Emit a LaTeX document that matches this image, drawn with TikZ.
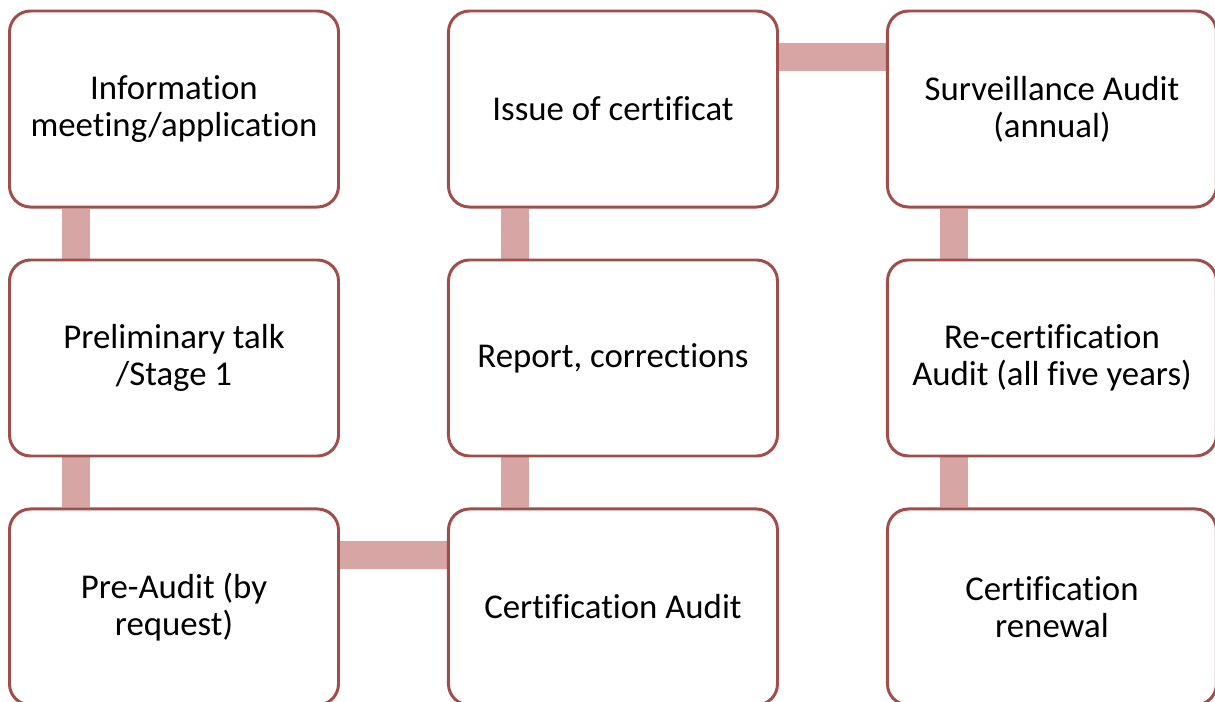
\documentclass[tikz,border=0pt]{standalone}
\usepackage{fontspec}
\setmainfont[Ligatures=NoCommon]{Carlito}
\usetikzlibrary{positioning,calc,backgrounds}

\definecolor{stepline}{RGB}{160,78,76}
\definecolor{linkfill}{RGB}{214,165,164}

\tikzset{
  stepbox/.style={draw=stepline, line width=1.7pt, fill=white, rounded corners=0.42cm,
    minimum width=6.58cm, minimum height=3.92cm, align=center,
    font=\fontsize{19.8}{21}\selectfont, text=black},
  link/.style={linkfill, line width=16pt},
}

\begin{document}
\begin{tikzpicture}
  \useasboundingbox (0,0) rectangle (24.3,-14.02);

  %% first column, top to bottom
  \node[stepbox] (info) at (3.48,-2.18) {Information\\meeting/application};
  \node[stepbox, below=1cm of info] (prelim) {Preliminary talk\\/Stage 1};
  \node[stepbox, below=1cm of prelim] (preaudit) {Pre-Audit (by\\request)};

  %% second column, bottom to top
  \node[stepbox, right=2.14cm of preaudit] (certaudit) {Certification Audit};
  \node[stepbox, above=1cm of certaudit] (report) {Report, corrections};
  \node[stepbox, above=1cm of report] (issue) {Issue of certificat};

  %% third column, top to bottom
  \node[stepbox, right=2.14cm of issue] (surveil) {Surveillance Audit\\(annual)};
  \node[stepbox, below=1cm of surveil] (recert) {Re-certification\\Audit (all five years)};
  \node[stepbox, below=1cm of recert] (renewal) {Certification\\renewal};

  %% the bars go behind the boxes
  \begin{scope}[on background layer]
    \draw[link] ($(info.south west)+(1.36,0)$) -- ($(prelim.north west)+(1.36,0)$);
    \draw[link] ($(prelim.south west)+(1.36,0)$) -- ($(preaudit.north west)+(1.36,0)$);
    \draw[link] ($(preaudit.north east)+(0,-0.95)$) -- ($(certaudit.north west)+(0,-0.95)$);
    \draw[link] ($(certaudit.north west)+(1.36,0)$) -- ($(report.south west)+(1.36,0)$);
    \draw[link] ($(report.north west)+(1.36,0)$) -- ($(issue.south west)+(1.36,0)$);
    \draw[link] ($(issue.north east)+(0,-0.95)$) -- ($(surveil.north west)+(0,-0.95)$);
    \draw[link] ($(surveil.south west)+(1.36,0)$) -- ($(recert.north west)+(1.36,0)$);
    \draw[link] ($(recert.south west)+(1.36,0)$) -- ($(renewal.north west)+(1.36,0)$);
  \end{scope}
\end{tikzpicture}
\end{document}
